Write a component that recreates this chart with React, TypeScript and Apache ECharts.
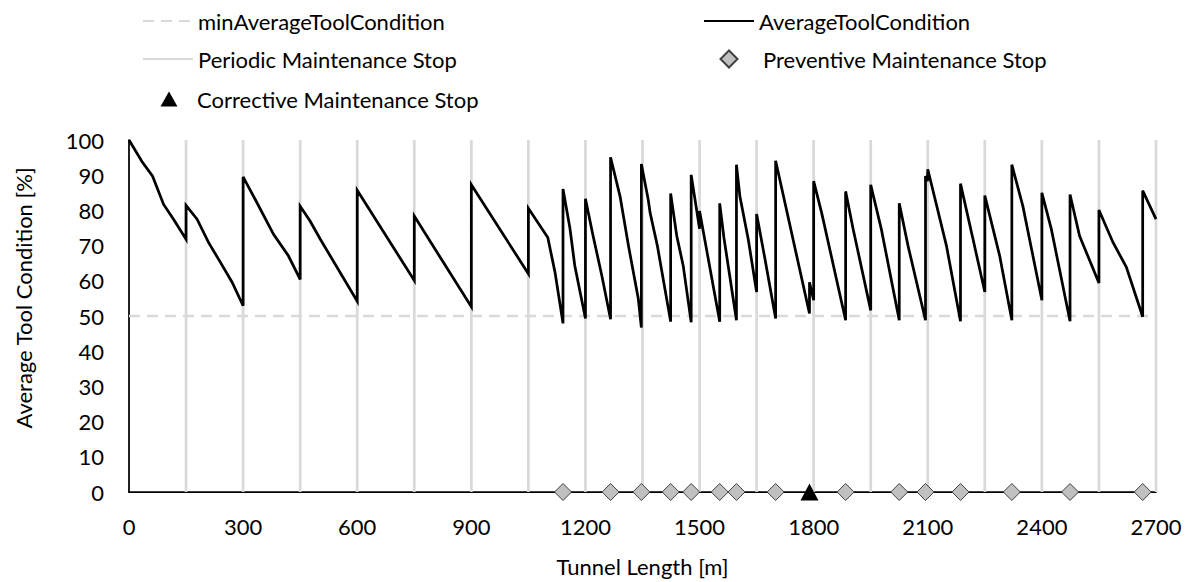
import { useEffect, useRef } from 'react';
import * as echarts from 'echarts';

// Average tool condition along the tunnel: [tunnel length m, condition %]
const toolConditionPoints: [number, number][] = [
  [0, 100], [34, 93.9], [62, 89.7], [91, 81.7], [117, 77.5], [150, 71.8],
  [150, 81.4], [179, 77.5], [209, 70.9], [240, 65.3], [271, 59.6], [300, 52.9],
  [300, 89.5], [332, 83.1], [380, 73.2], [419, 67.1], [450, 60.4],
  [450, 81.2], [476, 77], [503, 71.8], [600, 54.2],
  [600, 85.7], [750, 60.1],
  [750, 78.4], [900, 52.6],
  [900, 87.3], [1050, 62],
  [1050, 80.6], [1101, 72.3], [1120, 62.4], [1141, 47.9],
  [1141, 86.1], [1159, 75.1], [1172, 64.3], [1200, 49.3],
  [1200, 83.3], [1220, 72.8], [1243, 61.5], [1266, 49.1],
  [1266, 95.1], [1291, 84], [1313, 70], [1339, 54.9], [1347, 46.7],
  [1347, 93.2], [1365, 83.1], [1370, 79.3], [1389, 70], [1424, 48.4],
  [1424, 84.8], [1440, 72.8], [1457, 64.3], [1478, 48.2],
  [1478, 90.1], [1500, 74.8],
  [1500, 79.8], [1553, 48.4],
  [1553, 82], [1564, 72.3], [1597, 48.8],
  [1597, 93], [1606, 84], [1628, 71.8], [1650, 56.8],
  [1650, 79], [1672, 66.2], [1700, 49.3],
  [1700, 94.1], [1789, 50.7],
  [1789, 59.6], [1800, 54.5],
  [1800, 88.3], [1821, 79.3], [1884, 48.8],
  [1884, 85.4], [1904, 74.6], [1950, 51.6],
  [1950, 87.3], [1978, 74.6], [2025, 48.8],
  [2025, 82], [2048, 70], [2094, 48.8],
  [2094, 89.8], [2099, 88.3], [2100, 91.7], [2149, 70], [2186, 48.5],
  [2186, 87.6], [2219, 71.8], [2250, 56.8],
  [2250, 84.2], [2289, 67.1], [2321, 48.8],
  [2321, 93], [2350, 81.2], [2400, 54.5],
  [2400, 85], [2425, 74.6], [2474, 48.5],
  [2474, 84.5], [2499, 72.8], [2508, 70.4], [2550, 59.4],
  [2550, 80.1], [2587, 70.9], [2622, 63.9], [2665, 49.8],
  [2665, 85.6], [2700, 77.5],
];

const periodicStops = [150, 300, 450, 600, 750, 900, 1050, 1200, 1350, 1500, 1650, 1800, 1950, 2100, 2250, 2400, 2550, 2700];
const preventiveStops = [1141, 1266, 1347, 1424, 1478, 1553, 1597, 1700, 1884, 2025, 2094, 2186, 2321, 2474, 2665];
const correctiveStops = [1789];
const minAverageToolCondition = 50;
const tunnelStart = 0;
const tunnelEnd = 2700;
const periodicLineRange = [0, 100];

const FONT = 'Lato, "Noto Sans", sans-serif';
const FS = 22;

const legendBase = {
  orient: 'horizontal',
  padding: 0,
  selectedMode: false,
  textStyle: { fontFamily: FONT, fontSize: FS, color: '#000' },
};

export default function App() {
  const ref = useRef<HTMLDivElement>(null);
  useEffect(() => {
    if (!ref.current) return;
    const chart = echarts.init(ref.current, null, { renderer: 'svg' });

    const periodicData: any[] = [];
    periodicStops.forEach((p) => {
      periodicData.push([p, periodicLineRange[0]], [p, periodicLineRange[1]], [p, '-']);
    });

    const hiddenSymbol = { opacity: 0 };

    chart.setOption({
      animation: false,
      backgroundColor: '#ffffff',
      textStyle: { fontFamily: FONT },
      grid: { left: 129, right: 34, top: 140, bottom: 87, containLabel: false },
      legend: [
        {
          ...legendBase, left: 142, top: 10, itemWidth: 50, itemHeight: 14,
          data: [{ name: 'minAverageToolCondition', itemStyle: hiddenSymbol }],
        },
        {
          ...legendBase, left: 142, top: 48, itemWidth: 50, itemHeight: 14,
          data: [{ name: 'Periodic Maintenance Stop', itemStyle: hiddenSymbol }],
        },
        {
          ...legendBase, left: 160.5, top: 88, itemWidth: 17, itemHeight: 15,
          textStyle: { ...legendBase.textStyle, padding: [0, 0, 0, 14.5] },
          data: ['Corrective Maintenance Stop'],
        },
        {
          ...legendBase, left: 703, top: 10, itemWidth: 50, itemHeight: 14,
          data: [{ name: 'AverageToolCondition', itemStyle: hiddenSymbol }],
        },
        {
          ...legendBase, left: 719.5, top: 48, itemWidth: 17, itemHeight: 17,
          textStyle: { ...legendBase.textStyle, padding: [0, 0, 0, 20.5] },
          data: ['Preventive Maintenance Stop'],
        },
      ],
      xAxis: {
        type: 'value', min: tunnelStart, max: tunnelEnd, interval: 300,
        name: 'Tunnel Length [m]', nameLocation: 'middle', nameGap: 63,
        nameTextStyle: { fontFamily: FONT, fontSize: FS, color: '#000' },
        axisLine: { show: true, onZero: false, lineStyle: { color: '#000', width: 1.75 } },
        axisTick: { show: false },
        splitLine: { show: false },
        axisLabel: {
          fontFamily: FONT, fontSize: FS, color: '#000', margin: 23,
          formatter: (v: number) => String(v),
        },
      },
      yAxis: {
        type: 'value', min: 0, max: 100, interval: 10,
        axisLine: { show: true, lineStyle: { color: '#000', width: 1.75 } },
        axisTick: { show: false },
        splitLine: { show: false },
        axisLabel: { fontFamily: FONT, fontSize: FS, color: '#000', margin: 25 },
      },
      graphic: [
        {
          type: 'text', x: 23, y: 298, rotation: Math.PI / 2,
          style: {
            text: 'Average Tool Condition [%]', fontFamily: FONT, fontSize: FS,
            fill: '#000', align: 'center', verticalAlign: 'middle',
          },
        },
      ],
      series: [
        {
          name: 'Periodic Maintenance Stop', type: 'line', data: periodicData,
          symbol: 'none', connectNulls: false, z: 1,
          lineStyle: { color: '#d9d9d9', width: 2.75 },
          itemStyle: { color: '#d9d9d9' },
        },
        {
          name: 'minAverageToolCondition', type: 'line',
          data: [[tunnelStart, minAverageToolCondition], [tunnelEnd, minAverageToolCondition]],
          symbol: 'none', z: 2,
          lineStyle: { color: '#d9d9d9', width: 2.5, type: [11, 7] },
          itemStyle: { color: '#d9d9d9' },
        },
        {
          name: 'AverageToolCondition', type: 'line', data: toolConditionPoints,
          symbol: 'none', z: 3,
          lineStyle: { color: '#000', width: 2.75, join: 'miter' },
          itemStyle: { color: '#000' },
        },
        {
          name: 'Preventive Maintenance Stop', type: 'scatter',
          data: preventiveStops.map((p) => [p, 0]),
          symbol: 'diamond', symbolSize: [17, 17], z: 4,
          itemStyle: { color: '#c0c0c0', borderColor: '#404040', borderWidth: 1, opacity: 1 },
        },
        {
          name: 'Corrective Maintenance Stop', type: 'scatter',
          data: correctiveStops.map((p) => [p, 0]),
          symbol: 'triangle', symbolSize: [18, 17], z: 5,
          itemStyle: { color: '#000', opacity: 1 },
        },
      ],
    });
    return () => chart.dispose();
  }, []);
  return (
    <div
      ref={ref}
      style={{ position: 'absolute', left: 0, top: 0, width: 1190, height: 582 }}
    />
  );
}
